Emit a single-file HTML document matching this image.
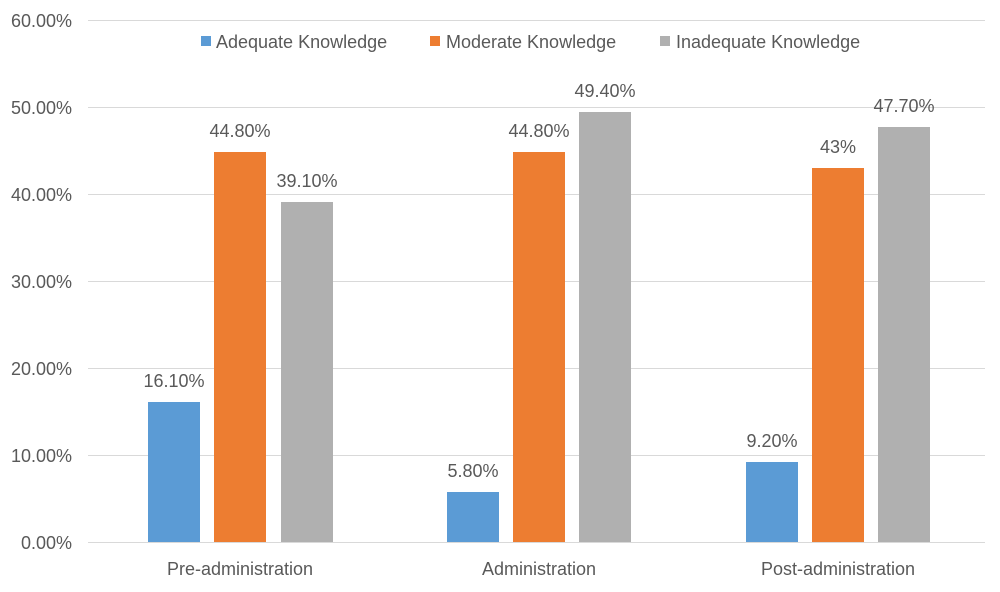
<!DOCTYPE html>
<html><head><meta charset="utf-8"><style>
body{margin:0;background:#fff}
svg text{font-family:"Liberation Sans",sans-serif;fill:#595959}
</style></head><body>
<svg width="1000" height="587" xmlns="http://www.w3.org/2000/svg">
<g stroke="#d9d9d9" stroke-width="1">
<line x1="88" x2="985" y1="20.5" y2="20.5"/>
<line x1="88" x2="985" y1="107.5" y2="107.5"/>
<line x1="88" x2="985" y1="194.5" y2="194.5"/>
<line x1="88" x2="985" y1="281.5" y2="281.5"/>
<line x1="88" x2="985" y1="368.5" y2="368.5"/>
<line x1="88" x2="985" y1="455.5" y2="455.5"/>
<line x1="88" x2="985" y1="542.5" y2="542.5"/>
</g>
<g font-size="18" text-anchor="end">
<text x="72" y="27">60.00%</text>
<text x="72" y="114">50.00%</text>
<text x="72" y="201">40.00%</text>
<text x="72" y="288">30.00%</text>
<text x="72" y="375">20.00%</text>
<text x="72" y="462">10.00%</text>
<text x="72" y="549">0.00%</text>
</g>
<g>
<rect x="148" y="402" width="52" height="140" fill="#5b9bd5"/>
<rect x="214" y="152" width="52" height="390" fill="#ed7d31"/>
<rect x="281" y="202" width="52" height="340" fill="#b0b0b0"/>
<rect x="447" y="492" width="52" height="50" fill="#5b9bd5"/>
<rect x="513" y="152" width="52" height="390" fill="#ed7d31"/>
<rect x="579" y="112" width="52" height="430" fill="#b0b0b0"/>
<rect x="746" y="462" width="52" height="80" fill="#5b9bd5"/>
<rect x="812" y="168" width="52" height="374" fill="#ed7d31"/>
<rect x="878" y="127" width="52" height="415" fill="#b0b0b0"/>
</g>
<g font-size="18" text-anchor="middle">
<text x="174" y="387">16.10%</text>
<text x="240" y="137">44.80%</text>
<text x="307" y="187">39.10%</text>
<text x="473" y="477">5.80%</text>
<text x="539" y="137">44.80%</text>
<text x="605" y="97">49.40%</text>
<text x="772" y="447">9.20%</text>
<text x="838" y="153">43%</text>
<text x="904" y="112">47.70%</text>
<text x="240" y="575">Pre-administration</text>
<text x="539" y="575">Administration</text>
<text x="838" y="575">Post-administration</text>
</g>
<g font-size="18">
<rect x="201" y="36" width="10" height="10" fill="#5b9bd5"/>
<text x="216" y="48">Adequate Knowledge</text>
<rect x="430" y="36" width="10" height="10" fill="#ed7d31"/>
<text x="446" y="48">Moderate Knowledge</text>
<rect x="660" y="36" width="10" height="10" fill="#b0b0b0"/>
<text x="676" y="48">Inadequate Knowledge</text>
</g>
</svg>
</body></html>
